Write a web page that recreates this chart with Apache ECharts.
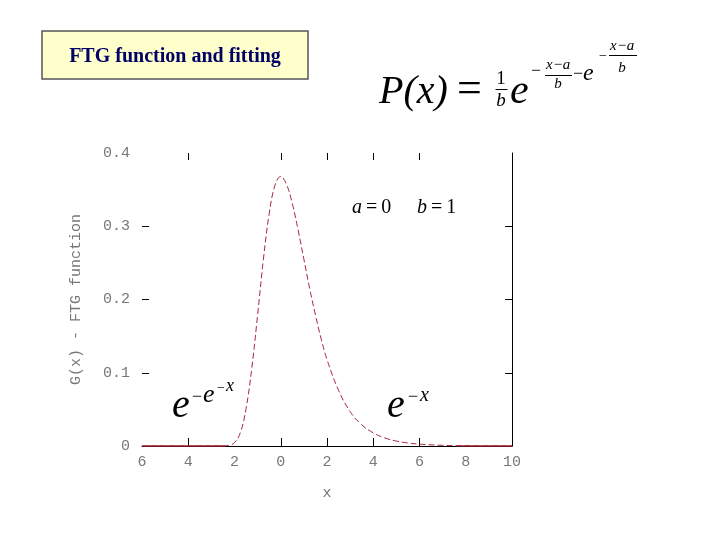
<!DOCTYPE html>
<html><head><meta charset="utf-8">
<script src="https://cdn.jsdelivr.net/npm/echarts@6/dist/echarts.min.js"></script>
<style>html,body{margin:0;padding:0;background:#fff}#c{width:720px;height:540px}</style>
</head><body><div id="c"></div>
<script>
// ---- data ----
const xValues = [-6, -3, -2.5, -2.25, -2, -1.75, -1.5, -1.25, -1, -0.75, -0.5, -0.25, 0, 0.25, 0.5, 0.75, 1, 1.25, 1.5, 1.75, 2, 2.5, 3, 3.5, 4, 4.5, 5, 5.5, 6, 7, 8, 10];
const gValues = [0, 0, 0.0001, 0.0007, 0.0046, 0.018, 0.051, 0.107, 0.179, 0.255, 0.317, 0.356, 0.368, 0.357, 0.331, 0.295, 0.255, 0.215, 0.179, 0.146, 0.118, 0.076, 0.047, 0.029, 0.018, 0.011, 0.0067, 0.0041, 0.0025, 0.0009, 0.0003, 0];
const tailX = [-6, -2.4, null, 7.6, 10];
const tailY = [0, 0, null, 0, 0];
const xTickValues = [-6, -4, -2, 0, 2, 4, 6, 8, 10];
const xTickLabels = ['6', '4', '2', '0', '2', '4', '6', '8', '10'];
const xTickMarks = [-4, 0, 2, 4, 6];
const yTickValues = [0, 0.1, 0.2, 0.3, 0.4];
const yTickLabels = ['0', '0.1', '0.2', '0.3', '0.4'];
const yTickMarks = [0.1, 0.2, 0.3];
const titleText = 'FTG function and fitting';
const xName = 'x';
const yName = 'G(x) - FTG function';

const curve = xValues.map((x, i) => [x, gValues[i]]);
const tails = tailX.map((x, i) => x === null ? '-' : [x, tailY[i]]);

const mono = '"Liberation Mono", "DejaVu Sans Mono", monospace';
const serif = '"Liberation Serif", "DejaVu Serif", serif';
const axisGray = '#777';
const curveColor = '#a82838';

const chart = echarts.init(document.getElementById('c'), null, {renderer: 'canvas'});

function t(txt, x, y, size, opt) {
  opt = opt || {};
  return {type: 'text', x: x, y: y, z: 10, style: {
    text: txt, fontSize: size, fontFamily: serif,
    fontStyle: opt.italic ? 'italic' : 'normal', fontWeight: opt.bold ? 'bold' : 'normal',
    fill: opt.color || '#000', align: opt.align || 'left', verticalAlign: 'middle'}};
}
function ln(x1, y1, x2, y2) {
  return {type: 'line', z: 10, shape: {x1: x1, y1: y1, x2: x2, y2: y2}, style: {stroke: '#000', lineWidth: 1}};
}

const xLabelMap = {};
xTickValues.forEach((v, i) => xLabelMap[v] = xTickLabels[i]);
const yLabelMap = {};
yTickValues.forEach((v, i) => yLabelMap[v.toFixed(1)] = yTickLabels[i]);

const option = {
  animation: false,
  backgroundColor: '#fff',
  grid: {left: 142, right: 208, top: 153, bottom: 94, containLabel: false},
  xAxis: [{
    type: 'value', position: 'bottom', min: -6, max: 10, interval: 2,
    name: xName, nameLocation: 'middle', nameGap: 40,
    nameTextStyle: {fontFamily: mono, fontSize: 15, color: axisGray},
    axisLine: {show: true, onZero: false, lineStyle: {color: '#000', width: 1}},
    axisTick: {show: true, inside: true, length: 8, customValues: xTickMarks, lineStyle: {color: '#000'}},
    axisLabel: {show: true, margin: 9, fontFamily: mono, fontSize: 15, color: axisGray,
      formatter: v => xLabelMap[v] !== undefined ? xLabelMap[v] : ''},
    splitLine: {show: false}
  }, {
    type: 'value', position: 'top', min: -6, max: 10, interval: 2,
    axisLine: {show: false, onZero: false},
    axisTick: {show: true, inside: true, length: 7, customValues: xTickMarks, lineStyle: {color: '#000'}},
    axisLabel: {show: false}, splitLine: {show: false}
  }],
  yAxis: [{
    type: 'value', position: 'left', min: 0, max: 0.4, interval: 0.1,
    name: yName, nameLocation: 'middle', nameGap: 58, nameRotate: 90,
    nameTextStyle: {fontFamily: mono, fontSize: 15, color: axisGray},
    axisLine: {show: false, onZero: false},
    axisTick: {show: true, inside: true, length: 7, customValues: yTickMarks, lineStyle: {color: '#000'}},
    axisLabel: {show: true, margin: 12, fontFamily: mono, fontSize: 15, color: axisGray,
      formatter: v => yLabelMap[v.toFixed(1)] || ''},
    splitLine: {show: false}
  }, {
    type: 'value', position: 'right', min: 0, max: 0.4, interval: 0.1,
    axisLine: {show: true, onZero: false, lineStyle: {color: '#000', width: 1}},
    axisTick: {show: true, inside: true, length: 7, customValues: yTickMarks, lineStyle: {color: '#000'}},
    axisLabel: {show: false}, splitLine: {show: false}
  }],
  series: [{
    type: 'line', xAxisIndex: 0, yAxisIndex: 0, data: curve, smooth: 0.4, showSymbol: false, z: 5,
    lineStyle: {color: curveColor, width: 1, type: [6, 3]}
  }, {
    type: 'line', xAxisIndex: 0, yAxisIndex: 0, data: tails, showSymbol: false, connectNulls: false, z: 6,
    lineStyle: {color: curveColor, width: 1.3, type: 'solid'}
  }],
  graphic: [
    {type: 'rect', shape: {x: 42, y: 31, width: 266, height: 48},
     style: {fill: '#ffffcc', stroke: '#555', lineWidth: 1.5}},
    t(titleText, 175, 57, 20, {bold: true, color: '#000066', align: 'center'}),
    // P(x) = 1/b e^{...}
    t('P(x)', 379, 92, 40, {italic: true}),
    t('=', 457, 90, 44),
    t('1', 501, 79, 19, {align: 'center'}),
    ln(495.5, 89.5, 507.5, 89.5),
    t('b', 501, 101, 19, {italic: true, align: 'center'}),
    t('e', 510, 92, 42, {italic: true}),
    t('\u2212', 531, 71, 18),
    t('x\u2212a', 546, 65, 15, {italic: true}),
    ln(545, 75.5, 572, 75.5),
    t('b', 558, 84, 15, {italic: true, align: 'center'}),
    t('\u2212', 573, 74, 18),
    t('e', 583, 74, 24, {italic: true}),
    t('\u2212', 599, 56, 14),
    t('x\u2212a', 610, 46, 15, {italic: true}),
    ln(609, 55.5, 637, 55.5),
    t('b', 622, 68, 15, {italic: true, align: 'center'}),
    // a = 0   b = 1
    {type: 'text', x: 352, y: 208, z: 10, style: {
      text: '{i|a}{n|\u2009=\u20090}', verticalAlign: 'middle',
      rich: {i: {fontFamily: serif, fontStyle: 'italic', fontSize: 20, fill: '#000'},
             n: {fontFamily: serif, fontSize: 20, fill: '#000'}}}},
    {type: 'text', x: 417, y: 208, z: 10, style: {
      text: '{i|b}{n|\u2009=\u20091}', verticalAlign: 'middle',
      rich: {i: {fontFamily: serif, fontStyle: 'italic', fontSize: 20, fill: '#000'},
             n: {fontFamily: serif, fontSize: 20, fill: '#000'}}}},
    // e^{-e^{-x}}
    t('e', 172, 406, 40, {italic: true}),
    t('\u2212', 192, 397, 18),
    t('e', 203, 395, 26, {italic: true}),
    t('\u2212', 217, 388, 14),
    t('x', 226, 386, 18, {italic: true}),
    // e^{-x}
    t('e', 387, 406, 40, {italic: true}),
    t('\u2212', 408, 397, 18),
    t('x', 420, 396, 20, {italic: true})
  ]
};
chart.setOption(option);
</script>
</body></html>
